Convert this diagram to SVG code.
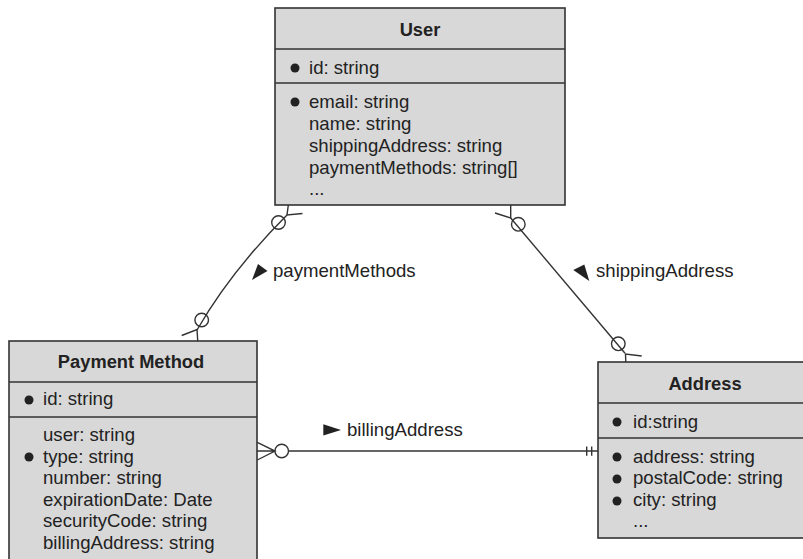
<svg xmlns="http://www.w3.org/2000/svg" width="803" height="559" viewBox="0 0 803 559">
<style>
.box{fill:#d8d8d8;stroke:#333;stroke-width:1.6}
.div{stroke:#333;stroke-width:1.6;fill:none}
.t{font-family:"Liberation Sans",Arial,Helvetica,sans-serif;font-size:18.6px;fill:#222}
.h{font-family:"Liberation Sans",Arial,Helvetica,sans-serif;font-size:18.3px;font-weight:bold;fill:#222;text-anchor:middle}
.b{fill:#222}
.ln{fill:none;stroke:#333;stroke-width:1.4}
.c{fill:none;stroke:#333;stroke-width:1.4}
.tri{fill:#222}
</style>
<rect width="803" height="559" fill="#fff"/>
<g id="connectors">
  <!-- paymentMethods -->
  <path class="ln" d="M287,215 Q231,271 197,330"/>
  <circle class="c" cx="278.5" cy="222.5" r="6.8"/>
  <circle class="c" cx="201.7" cy="320" r="6.8"/>
  <path class="ln" d="M289,200 L287,215 L302.5,213.5"/>
  <path class="ln" d="M181.7,335.5 L197,329.5 L198,345"/>
  <!-- shippingAddress -->
  <path class="ln" d="M510.7,218 L625,353.3"/>
  <circle class="c" cx="518.3" cy="224.3" r="6.8"/>
  <circle class="c" cx="618.3" cy="343.8" r="6.8"/>
  <path class="ln" d="M510.7,200 L510.7,218 L495,213"/>
  <path class="ln" d="M641.7,356 L625.5,354 L626,368"/>
  <!-- billingAddress -->
  <path class="ln" d="M257,451 L275,451 M257.3,442.3 L275,451 L257.3,460 M288.5,451 L598,451"/>
  <circle class="c" cx="281.7" cy="451" r="6.8"/>
  <path class="ln" d="M586.7,446.5 V455.8 M591.7,446.5 V455.8"/>
  <!-- labels -->
  <polygon class="tri" points="252,280 258,264 267.5,271"/>
  <text class="t" x="273" y="277">paymentMethods</text>
  <polygon class="tri" points="573.3,270 584.3,264.5 589.3,281"/>
  <text class="t" x="596" y="277">shippingAddress</text>
  <polygon class="tri" points="323.3,424.3 323.3,435.5 341,430"/>
  <text class="t" x="347" y="436">billingAddress</text>
</g>
<g id="user">
  <rect class="box" x="275" y="8" width="290" height="197"/>
  <line class="div" x1="275" y1="49" x2="565" y2="49"/>
  <line class="div" x1="275" y1="83" x2="565" y2="83"/>
  <text class="h" x="420" y="36">User</text>
  <circle class="b" cx="295" cy="68" r="4.5"/>
  <text class="t" x="309" y="74">id: string</text>
  <circle class="b" cx="295" cy="102" r="4.5"/>
  <text class="t" x="309" y="108">email: string</text>
  <text class="t" x="309" y="130">name: string</text>
  <text class="t" x="309" y="152">shippingAddress: string</text>
  <text class="t" x="309" y="174">paymentMethods: string[]</text>
  <text class="t" x="309" y="195">...</text>
</g>
<g id="payment-method">
  <rect class="box" x="9" y="341" width="248" height="240"/>
  <line class="div" x1="9" y1="382" x2="257" y2="382"/>
  <line class="div" x1="9" y1="417" x2="257" y2="417"/>
  <text class="h" x="131" y="368">Payment Method</text>
  <circle class="b" cx="29" cy="400" r="4.5"/>
  <text class="t" x="43" y="405">id: string</text>
  <text class="t" x="43" y="441">user: string</text>
  <circle class="b" cx="29" cy="457" r="4.5"/>
  <text class="t" x="43" y="462.5">type: string</text>
  <text class="t" x="43" y="484">number: string</text>
  <text class="t" x="43" y="505.5">expirationDate: Date</text>
  <text class="t" x="43" y="527">securityCode: string</text>
  <text class="t" x="43" y="548.5">billingAddress: string</text>
</g>
<g id="address">
  <rect class="box" x="598" y="362" width="212" height="176"/>
  <line class="div" x1="598" y1="403" x2="810" y2="403"/>
  <line class="div" x1="598" y1="438" x2="810" y2="438"/>
  <text class="h" x="705" y="390">Address</text>
  <circle class="b" cx="617" cy="422" r="4.5"/>
  <text class="t" x="633" y="428">id:string</text>
  <circle class="b" cx="617" cy="457" r="4.5"/>
  <text class="t" x="633" y="462.5">address: string</text>
  <circle class="b" cx="617" cy="479" r="4.5"/>
  <text class="t" x="633" y="484">postalCode: string</text>
  <circle class="b" cx="617" cy="501" r="4.5"/>
  <text class="t" x="633" y="506">city: string</text>
  <text class="t" x="633" y="527">...</text>
</g>
</svg>
